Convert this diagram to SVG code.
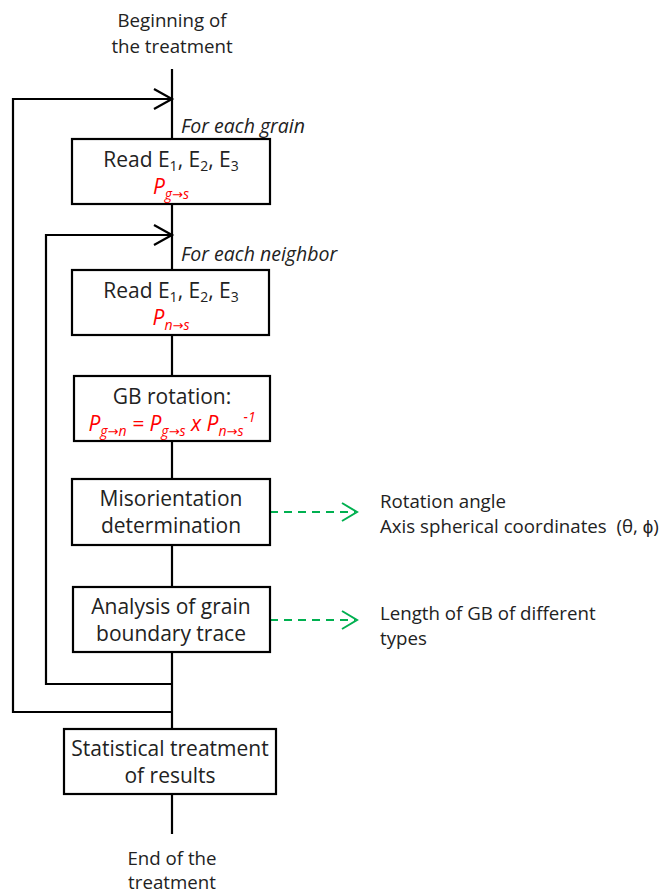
<svg xmlns="http://www.w3.org/2000/svg" width="666" height="894" viewBox="0 0 666 894">
<style>
text{font-family:"Open Sans","Liberation Sans",sans-serif;fill:#222;font-size:21px}
.c{text-anchor:middle}
.it{font-style:italic;font-size:19.5px}
.lab{font-size:18.7px}
.out{font-size:18.7px}
.red{fill:#ff0000;font-style:italic}
.box{fill:#fff;stroke:#000;stroke-width:2.2}
.ln{fill:none;stroke:#000;stroke-width:2.2}
.gr{fill:none;stroke:#00b050;stroke-width:2;stroke-dasharray:8,6}
.gh{fill:none;stroke:#00b050;stroke-width:2}
.sub{font-size:14px}
.ar{font-family:"DejaVu Sans",sans-serif;font-size:13px}
</style>
<g id="connectors">
<path class="ln" d="M172 69 V834"/>
<path class="ln" d="M172 99 H13 V712 H172"/>
<path class="ln" d="M154 89 L172 99 L154 109"/>
<path class="ln" d="M172 235 H46 V684 H172"/>
<path class="ln" d="M154 225 L172 235 L154 245"/>
<path class="gr" d="M270 512 H355"/>
<path class="gh" d="M342 503 L357 512 L342 521"/>
<path class="gr" d="M270 620 H355"/>
<path class="gh" d="M342 611 L357 620 L342 629"/>
</g>
<g id="start"><text class="c lab" x="172" y="27">Beginning of</text><text class="c lab" x="172" y="53">the treatment</text></g>
<g id="lbl-grain"><text class="it" x="181" y="133">For each grain</text></g>
<g id="box1"><rect class="box" x="72" y="139" width="198" height="65"/>
<text class="c" x="171" y="167">Read E<tspan class="sub" dy="4">1</tspan><tspan dy="-4">, E</tspan><tspan class="sub" dy="4">2</tspan><tspan dy="-4">, E</tspan><tspan class="sub" dy="4">3</tspan></text>
<text class="c red" x="171" y="194">P<tspan class="sub" dy="5">g</tspan><tspan class="ar">→</tspan><tspan class="sub">s</tspan></text></g>
<g id="lbl-neighbor"><text class="it" x="181" y="261">For each neighbor</text></g>
<g id="box2"><rect class="box" x="72" y="270" width="197" height="65"/>
<text class="c" x="171" y="298">Read E<tspan class="sub" dy="4">1</tspan><tspan dy="-4">, E</tspan><tspan class="sub" dy="4">2</tspan><tspan dy="-4">, E</tspan><tspan class="sub" dy="4">3</tspan></text>
<text class="c red" x="171" y="325">P<tspan class="sub" dy="5">n</tspan><tspan class="ar">→</tspan><tspan class="sub">s</tspan></text></g>
<g id="box3"><rect class="box" x="74" y="376" width="196" height="65"/>
<text class="c" x="172" y="404">GB rotation:</text>
<text class="c red" x="172" y="431">P<tspan class="sub" dy="5">g</tspan><tspan class="ar">→</tspan><tspan class="sub">n</tspan><tspan dy="-5"> = P</tspan><tspan class="sub" dy="5">g</tspan><tspan class="ar">→</tspan><tspan class="sub">s</tspan><tspan dy="-5"> x P</tspan><tspan class="sub" dy="5">n</tspan><tspan class="ar">→</tspan><tspan class="sub">s</tspan><tspan class="sub" dy="-14">-1</tspan></text></g>
<g id="box4"><rect class="box" x="72" y="479" width="198" height="66"/>
<text class="c" x="171" y="506">Misorientation</text><text class="c" x="171" y="533">determination</text></g>
<g id="box5"><rect class="box" x="73" y="587" width="197" height="65"/>
<text class="c" x="171" y="614">Analysis of grain</text><text class="c" x="171" y="641">boundary trace</text></g>
<g id="box6"><rect class="box" x="64" y="729" width="212" height="65"/>
<text class="c" x="170" y="756">Statistical treatment</text><text class="c" x="170" y="783">of results</text></g>
<g id="end"><text class="c lab" x="172" y="865">End of the</text><text class="c lab" x="172" y="889">treatment</text></g>
<g id="out1"><text class="out" x="380" y="508">Rotation angle</text><text class="out" x="380" y="533" xml:space="preserve">Axis spherical coordinates  (θ, ϕ)</text></g>
<g id="out2"><text class="out" x="380" y="620">Length of GB of different</text><text class="out" x="380" y="645">types</text></g>
</svg>
